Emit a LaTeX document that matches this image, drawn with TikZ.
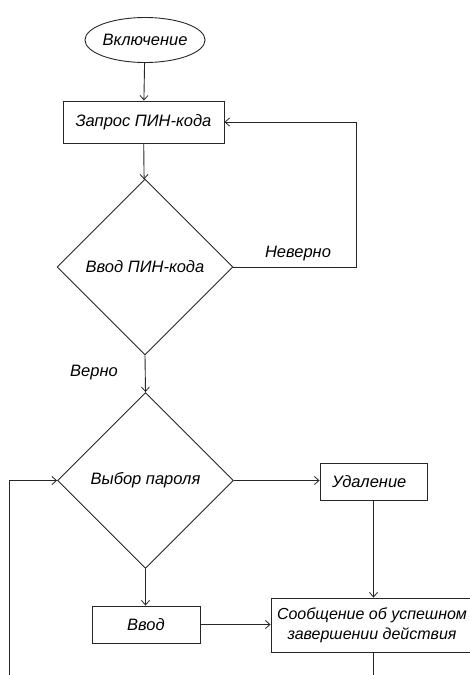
\documentclass[tikz,border=0pt]{standalone}
\usepackage{fontspec}
\setmainfont{Liberation Sans}
\usetikzlibrary{shapes.geometric,arrows.meta}
\begin{document}
\begin{tikzpicture}[x=1pt,y=-1pt,
  every node/.style={font=\itshape\fontsize{16.5}{20}\selectfont, text=black},
  line/.style={draw=black!85, line width=0.9pt},
  arr/.style={line, -{Straight Barb[length=4.5pt,width=8pt,line width=0.8pt]}},
  boxnode/.style={draw=black!85, line width=0.9pt, rectangle, inner sep=0pt},
  decision/.style={draw=black!85, line width=0.9pt, diamond, inner sep=0pt, minimum width=176pt, minimum height=176pt},
  startnode/.style={draw=black!85, line width=0.9pt, ellipse, inner sep=0pt, minimum width=105pt, minimum height=45pt},
  lbl/.style={inner sep=0pt}]
\useasboundingbox (0,0) rectangle (470,675);
\clip (0,0) rectangle (470,675);
\node[startnode] (start) at (145,40) {Включение};
\node[boxnode, minimum width=161pt, minimum height=42pt] (req) at (143.5,122) {Запрос ПИН-кода};
\node[decision] (pin) at (145,267) {Ввод ПИН-кода};
\node[decision] (choice) at (145.5,480.5) {Выбор пароля};
\node[boxnode, minimum height=37pt, text width=83pt, inner xsep=12pt, align=left] (del) at (373.5,481.5) {Удаление};
\node[boxnode, minimum width=108pt, minimum height=37pt] (inp) at (146,624.5) {Ввод};
\node[boxnode, minimum width=202pt, minimum height=54pt, align=center, font=\itshape\fontsize{16}{20}\selectfont] (msg) at (372,625) {Сообщение об успешном\\завершении действия};
\node[lbl] (wrong) at (298,254) {Неверно};
\node[lbl] (right) at (94,373) {Верно};
\coordinate (fb) at (356,267);
\coordinate (loopbot) at (9,675);
\coordinate (msgout) at (373.5,675);

\draw[arr] (start) -- (req);
\draw[arr] (req) -- (pin);
\draw[arr] (pin.east) -- (fb) |- (req.east);
\draw[arr] (pin.south) -- (choice.north);
\draw[arr] (choice.east) -- (del.west |- choice.east);
\draw[arr] (del.south) -- (del.south |- msg.north);
\draw[arr] (choice.south) -- (choice.south |- inp.north);
\draw[arr] (inp.east) -- (msg.west |- inp.east);
\draw[line] (del.south |- msg.south) -- (msgout);
\draw[arr] (loopbot) |- (choice.west);
\end{tikzpicture}
\end{document}
